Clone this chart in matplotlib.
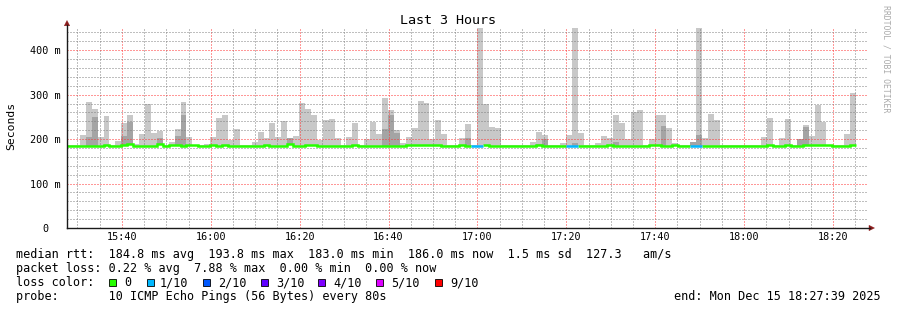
import numpy as np
import matplotlib
matplotlib.use("Agg")
import matplotlib.pyplot as plt
import matplotlib.dates as mdates
import matplotlib.transforms as mtransforms
from matplotlib.patches import Rectangle, Polygon
from matplotlib.lines import Line2D
from datetime import datetime, timedelta

plt.rcParams['font.family'] = ['DejaVu Sans Mono', 'DejaVu Sans']

W, H, DPI = 897, 310, 100
N = float('nan')

# ---------------- data ----------------
title = "Last 3 Hours"
y_label = "Seconds"
side_text = "RRDTOOL / TOBI OETIKER"
view_start = datetime(2025, 12, 15, 15, 27, 39)
view_end = datetime(2025, 12, 15, 18, 27, 39)
first_step = datetime(2025, 12, 15, 15, 26, 32)
step_seconds = 80

# top of the smoke (max ping), ms
smoke_max = [241,
    187, 187, 209, 284, 268, 205, 252, 187, 196, 236,
    254, 189, 212, 279, 214, 218, 187, 194, 223, 284,
    205, 187, 187, 189, 205, 248, 254, 198, 223, 187,
    187, 194, 216, 203, 236, 205, 241, 203, 207, 281,
    268, 254, 198, 243, 245, 203, 187, 205, 236, 187,
    200, 239, 212, 293, 266, 221, 191, 205, 225, 286,
    281, 200, 243, 212, 187, 187, 203, 234, 187, 450,
    279, 227, 225, 187, 187, 187, 187, 187, 194, 216,
    209, 187, 187, 191, 209, 450, 214, 187, 187, 191,
    207, 203, 254, 236, 200, 261, 266, 187, 200, 254,
    254, 225, 191, 187, 187, 194, 450, 203, 257, 243,
    187, 187, 187, 187, 187, 187, 187, 205, 248, 187,
    203, 245, 187, 200, 232, 207, 277, 239, 187, 187,
    187, 212, 304]

# top of the darker inner smoke band, ms (nan = not visible)
smoke_mid = [N,
    N, N, N, 205, 250, N, N, N, N, 207,
    239, N, N, N, N, 203, N, N, 207, 254,
    N, N, N, N, N, N, N, N, N, N,
    N, N, N, N, N, N, N, 203, N, N,
    N, N, N, N, N, N, N, N, N, N,
    N, N, N, 223, 254, 214, N, N, N, N,
    N, N, N, N, N, N, N, 203, N, N,
    N, N, N, N, N, N, N, N, N, 189,
    200, N, N, N, N, 191, N, N, N, N,
    N, N, 194, N, N, N, N, N, N, N,
    229, N, N, N, N, 194, 209, N, N, N,
    N, N, N, N, N, N, N, N, N, N,
    N, N, N, 200, 227, N, N, N, N, N,
    N, N, N]

# median rtt, ms
median_rtt = [185,
    185, 185, 185, 183.5, 185, 183.5, 186.5, 185, 185, 186.5,
    188, 185, 185, 185, 185, 189, 185, 186.5, 186.5, 185,
    186.5, 186.5, 185, 185, 186.5, 185, 186.5, 185, 185, 183.5,
    185, 183.5, 185, 186.5, 183.5, 183.5, 183.5, 188, 185, 183.5,
    186.5, 186.5, 185, 185, 185, 185, 183.5, 183.5, 186.5, 185,
    185, 185, 183.5, 185, 185, 185, 185, 186.5, 186.5, 186.5,
    186.5, 186.5, 186.5, 185, 185, 185, 186.5, 185, 183.5, 183.5,
    186.5, 185, 185, 183.5, 185, 185, 185, 185, 185, 186,
    185, 185, 185, 185, 183.5, 183.5, 185, 183.5, 185, 185,
    185, 186.5, 185, 185, 183.5, 185, 185, 183.5, 186.5, 186.5,
    185, 183.5, 186.5, 185, 183.5, 183.5, 183.5, 185, 183.5, 185,
    183.5, 185, 185, 185, 185, 185, 185, 185, 186.5, 185,
    183.5, 186.5, 185, 183.5, 186.5, 186.5, 186.5, 186.5, 186.5, 185,
    185, 183.5, 186.5]

# loss class per step (index into loss_colors)
loss_class = [0,
    0, 0, 0, 0, 0, 0, 0, 0, 0, 0,
    0, 0, 0, 0, 0, 0, 0, 0, 0, 0,
    0, 0, 0, 0, 0, 0, 0, 0, 0, 0,
    0, 0, 0, 0, 0, 0, 0, 0, 0, 0,
    0, 0, 0, 0, 0, 0, 0, 0, 0, 0,
    0, 0, 0, 0, 0, 0, 0, 0, 0, 0,
    0, 0, 0, 0, 0, 0, 0, 0, 1, 1,
    0, 0, 0, 0, 0, 0, 0, 0, 0, 0,
    0, 0, 0, 0, 1, 1, 0, 0, 0, 0,
    0, 0, 0, 0, 0, 0, 0, 0, 0, 0,
    0, 0, 0, 0, 0, 1, 1, 0, 0, 0,
    0, 0, 0, 0, 0, 0, 0, 0, 0, 0,
    0, 0, 0, 0, 0, 0, 0, 0, 0, 0,
    0, 0, 0]

y_ticks = [0, 100, 200, 300, 400]
y_tick_labels = ["0", "100 m", "200 m", "300 m", "400 m"]
loss_labels = ["0", "1/10", "2/10", "3/10", "4/10", "5/10", "9/10"]
loss_colors = ["#26ff00", "#00b8ff", "#0059ff", "#5e00ff", "#7e00ff", "#dd00ff", "#ff0000"]

legend_line1 = "median rtt:  184.8 ms avg  193.8 ms max  183.0 ms min  186.0 ms now  1.5 ms sd  127.3   am/s"
legend_line2 = "packet loss: 0.22 % avg  7.88 % max  0.00 % min  0.00 % now"
legend_line3 = "loss color:"
legend_line4 = "probe:       10 ICMP Echo Pings (56 Bytes) every 80s"
end_text = "end: Mon Dec 15 18:27:39 2025"

# ---------------- figure ----------------
fig = plt.figure(figsize=(W / DPI, H / DPI), dpi=DPI)
fig.patch.set_facecolor('white')
ax = fig.add_axes([67 / W, (H - 228) / H, 800 / W, 200 / H])
ax.set_facecolor('white')
for s in ax.spines.values():
    s.set_visible(False)

n = len(median_rtt)
edges = [first_step + timedelta(seconds=step_seconds * i) for i in range(n + 1)]
xe = mdates.date2num(edges)
med = np.array(median_rtt, float)
hi = np.array(smoke_max, float)
mid = np.array(smoke_mid, float)
mid = np.where(np.isnan(mid), med, mid)

ax.fill_between(xe, np.append(med, med[-1]), np.append(hi, hi[-1]), step='post',
                color='#c8c8c8', lw=0, zorder=1)
ax.fill_between(xe, np.append(med, med[-1]), np.append(mid, mid[-1]), step='post',
                color='#a4a4a4', lw=0, zorder=1.2)

# median line coloured by loss
for cls, color in enumerate(loss_colors):
    xs, ys = [], []
    prev = False
    for i in range(n):
        if loss_class[i] == cls:
            if not prev and xs:
                xs.append(np.nan); ys.append(np.nan)
            xs += [xe[i], xe[i + 1]]
            ys += [med[i], med[i]]
            prev = True
        else:
            prev = False
    if xs:
        ax.plot(xs, ys, color=color, lw=1.8, solid_capstyle='butt',
                solid_joinstyle='miter', zorder=3)

ax.set_xlim(mdates.date2num(view_start), mdates.date2num(view_end))
ax.set_ylim(0, 450)

ax.xaxis.set_major_locator(mdates.MinuteLocator(byminute=[0, 20, 40]))
ax.xaxis.set_minor_locator(mdates.MinuteLocator(byminute=list(range(0, 60, 5))))
ax.xaxis.set_major_formatter(mdates.DateFormatter('%H:%M'))
ax.set_yticks(y_ticks)
ax.set_yticks(list(range(0, 451, 20)), minor=True)
ax.set_yticklabels([])
ax.tick_params(which='both', length=0)
ax.tick_params(axis='x', pad=3, labelsize=7.3, colors='black')

ax.set_axisbelow(False)
ax.grid(which='major', color=(1, 0.2, 0.2, 0.36), lw=0.72, linestyle=(0, (1, 2)), snap=True)
ax.grid(which='minor', color=(0.5, 0.5, 0.5, 0.32), lw=0.72, linestyle=(0, (1, 2)), snap=True)

# y tick labels (x in pixels, y in data)
ytr = mtransforms.blended_transform_factory(mtransforms.IdentityTransform(), ax.transData)
for v, lbl in zip(y_ticks, y_tick_labels):
    xr = 60.5 if ' ' in lbl else 48.2
    ax.text(xr, v, lbl, transform=ytr, ha='right', va='center_baseline',
            fontsize=7.3, color='black', clip_on=False)

ident = mtransforms.IdentityTransform()

def P(x, y):
    return (x, H - y)

# axis lines and arrows
axis_col = '#1a1a1a'
fig.add_artist(Line2D([P(67, 228)[0], P(67, 25)[0]], [P(67, 228)[1], P(67, 25)[1]],
                      transform=ident, color=axis_col, lw=1.0))
fig.add_artist(Line2D([P(67, 228)[0], P(870, 228)[0]], [P(67, 228)[1], P(870, 228)[1]],
                      transform=ident, color=axis_col, lw=1.0))
arrow_col = '#8b1a1a'
fig.add_artist(Polygon([P(64.3, 25.8), P(69.7, 25.8), P(67, 20.5)], closed=True,
                       transform=ident, fc=arrow_col, ec=arrow_col, lw=0.3))
fig.add_artist(Polygon([P(869, 225.3), P(869, 230.7), P(874.5, 228)], closed=True,
                       transform=ident, fc=arrow_col, ec=arrow_col, lw=0.3))

# titles
fig.text(448 / W, (H - 24) / H, title, ha='center', va='baseline', fontsize=9.6, color='black')
fig.text(11 / W, (H - 126) / H, y_label, ha='center', va='center', rotation=90,
         fontsize=8.2, color='black')
fig.text(886 / W, (H - 5) / H, side_text, ha='center', va='top', rotation=270,
         fontsize=5.9, color='#aaaaaa')

# legend
LFS = 8.5
fig.text(16, H - 258.3, legend_line1, transform=ident, ha='left', va='baseline', fontsize=LFS)
fig.text(16, H - 272.3, legend_line2, transform=ident, ha='left', va='baseline', fontsize=LFS)
fig.text(16, H - 286.3, legend_line3, transform=ident, ha='left', va='baseline', fontsize=LFS)
fig.text(16, H - 300.3, legend_line4, transform=ident, ha='left', va='baseline', fontsize=LFS)
fig.text(880.5, H - 300.3, end_text, transform=ident, ha='right', va='baseline', fontsize=LFS)

square_x = [109, 146.7, 203.3, 260.7, 318.3, 375.7, 435]
label_x = [124, 160, 218.3, 276, 333.3, 390.7, 450]
for sx, lx, col, lbl in zip(square_x, label_x, loss_colors, loss_labels):
    fig.add_artist(Rectangle((sx, H - 286.2), 6.8, 6.8, transform=ident,
                             fc=col, ec='black', lw=0.6))
    fig.text(lx, H - 286.3, lbl, transform=ident, ha='left', va='baseline', fontsize=LFS)

fig.savefig('out.png', dpi=DPI, facecolor='white')
